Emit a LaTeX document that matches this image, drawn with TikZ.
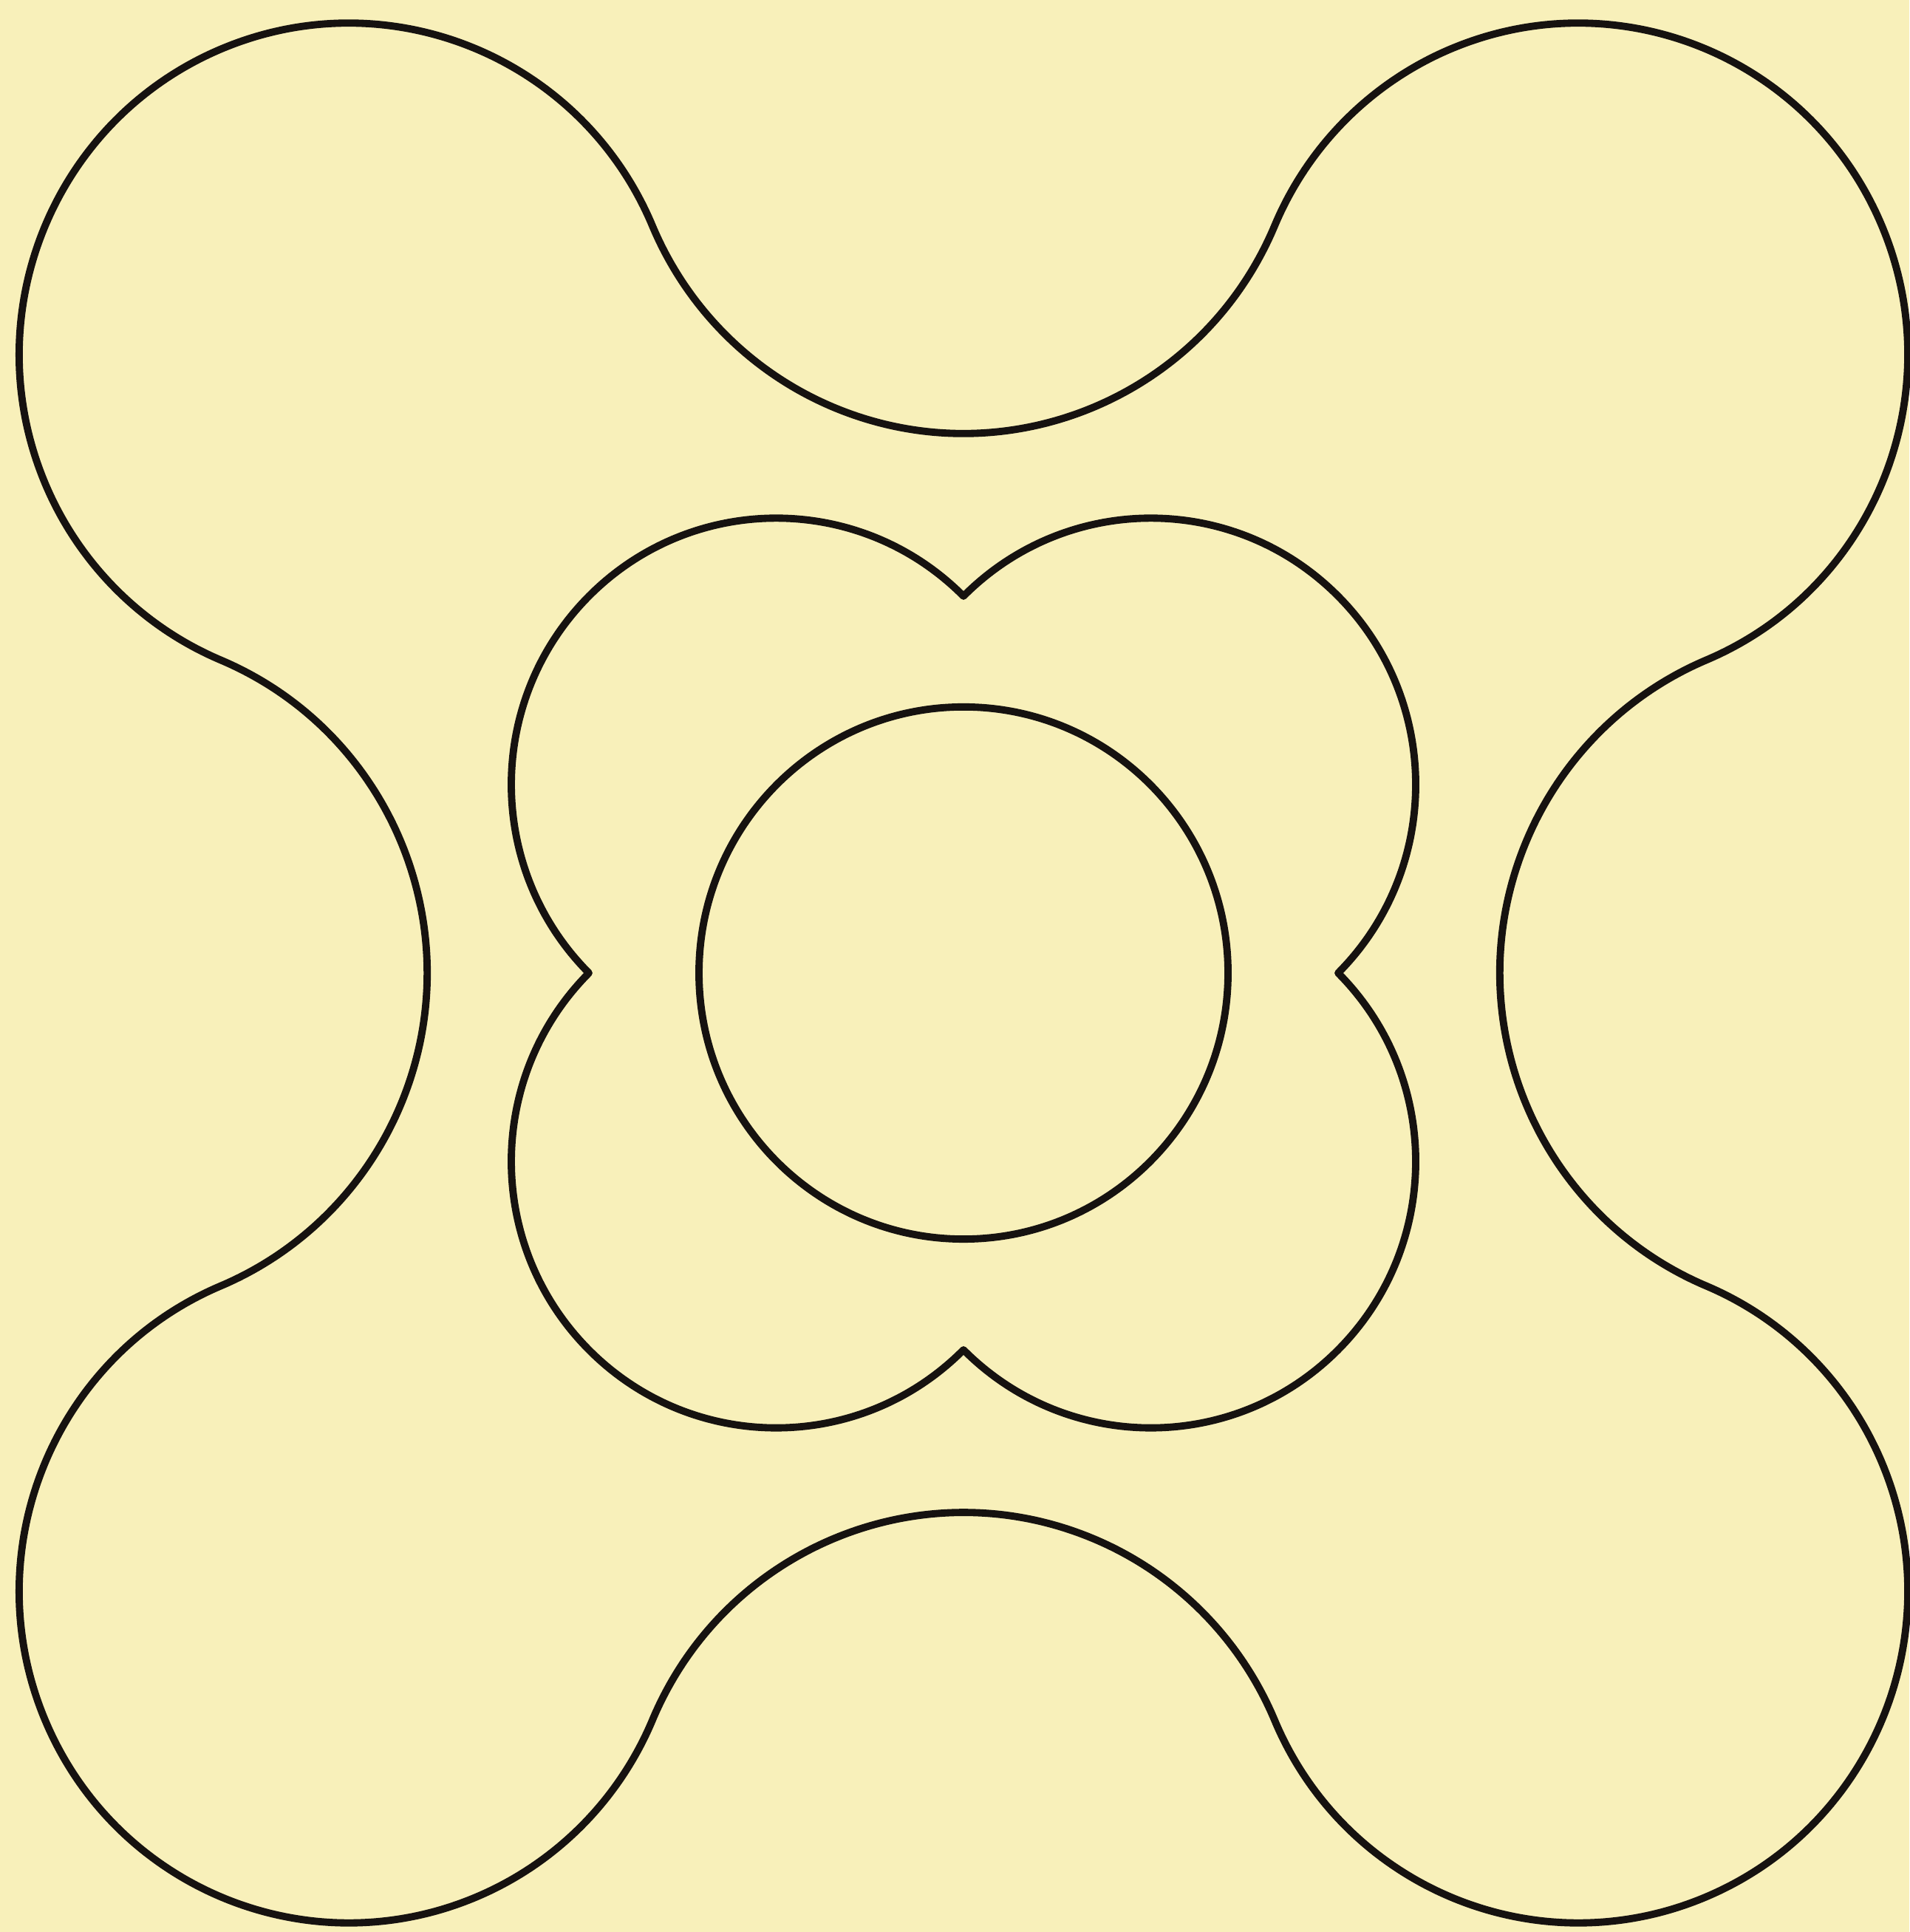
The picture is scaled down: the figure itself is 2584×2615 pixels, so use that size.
\documentclass[tikz,border=0pt]{standalone}
\definecolor{paper}{RGB}{248,240,186}
\definecolor{ink}{RGB}{22,18,16}
\begin{document}
\begin{tikzpicture}[x=0.01cm,y=0.01cm,
  outline/.style={draw=ink,line width=2.8pt,line join=round}]
\fill[paper] (0,0) rectangle (2584,2615);
\useasboundingbox (0,0) rectangle (2584,2615);
\begin{scope}[shift={(1304,1298)},yscale=1.006]
% outer figure: four corner lobes joined by four concave arcs
\draw[outline] (-832,832) ++(22.87:446)
  arc[start angle=22.87,end angle=247.13,radius=446]
  arc[start angle=67.13,end angle=-67.13,radius=457]
  arc[start angle=112.87,end angle=337.13,radius=446]
  arc[start angle=157.13,end angle=22.87,radius=457]
  arc[start angle=202.87,end angle=427.13,radius=446]
  arc[start angle=247.13,end angle=112.87,radius=457]
  arc[start angle=-67.13,end angle=157.13,radius=446]
  arc[start angle=-22.87,end angle=-157.13,radius=457] -- cycle;
% middle four-lobed figure
\draw[outline] (507,0)
  arc[start angle=-45,end angle=135,radius=358.5]
  arc[start angle=45,end angle=225,radius=358.5]
  arc[start angle=135,end angle=315,radius=358.5]
  arc[start angle=225,end angle=405,radius=358.5] -- cycle;
% inner circle
\draw[outline] (0,0) circle[radius=358];
\end{scope}
\end{tikzpicture}
\end{document}
